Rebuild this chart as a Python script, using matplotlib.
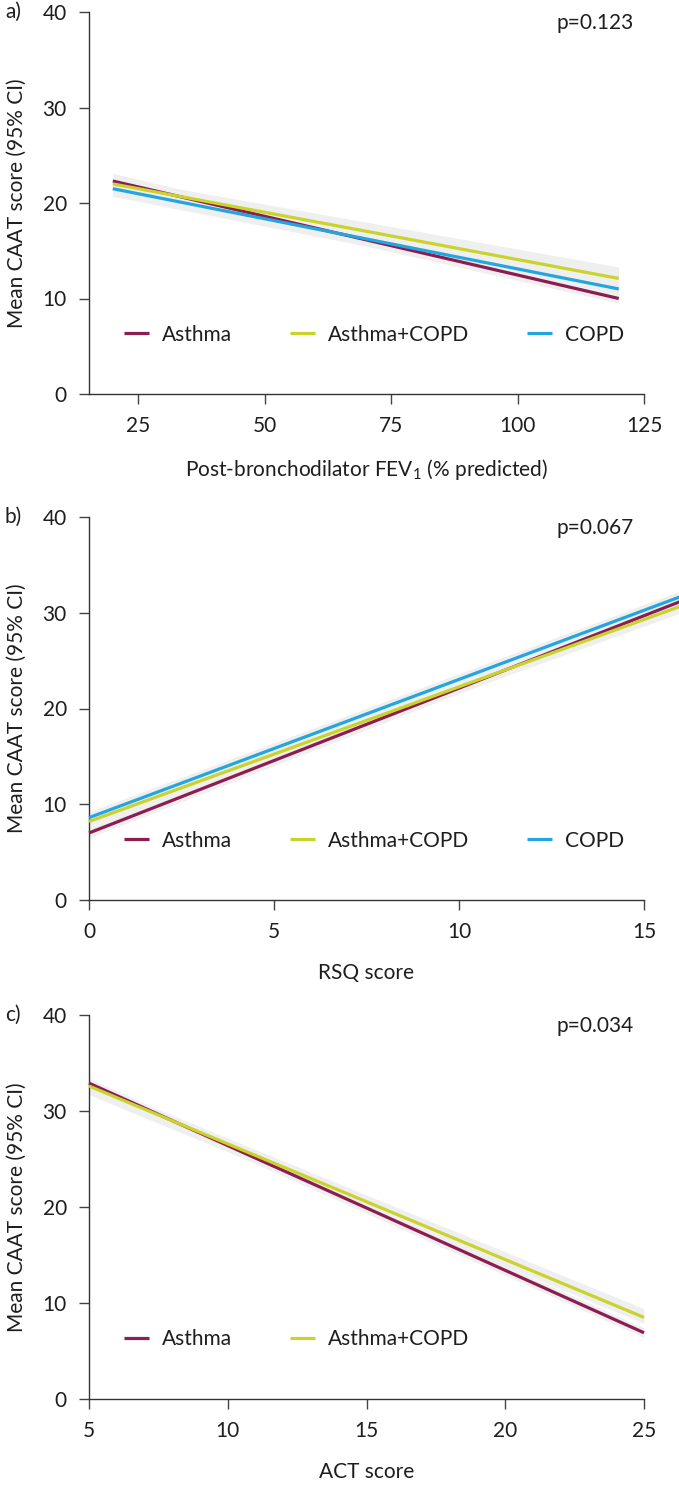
import numpy as np
import matplotlib.pyplot as plt

plt.rcParams['font.family'] = ['Lato', 'DejaVu Sans']
plt.rcParams['font.size'] = 15
plt.rcParams['mathtext.fontset'] = 'custom'
plt.rcParams['mathtext.rm'] = 'Lato'

# colours per group
colors = {'Asthma': '#8c1d50', 'Asthma+COPD': '#c9d32b', 'COPD': '#23a6e0'}
band_color = '#efefef'
txt = '#1e1e1e'

# panel a: post-bronchodilator FEV1 (% predicted)
fev_x = [20, 120]
fev_groups = ['Asthma', 'Asthma+COPD', 'COPD']
fev_mean = {'Asthma': [22.3, 10.0], 'Asthma+COPD': [22.0, 12.1], 'COPD': [21.5, 11.0]}
fev_lo = {'Asthma': [21.5, 9.5], 'Asthma+COPD': [21.3, 11.0], 'COPD': [20.7, 10.3]}
fev_hi = {'Asthma': [23.1, 10.7], 'Asthma+COPD': [22.7, 13.3], 'COPD': [22.2, 11.8]}

# panel b: RSQ score
rsq_x = [0, 16]
rsq_groups = ['Asthma', 'Asthma+COPD', 'COPD']
rsq_mean = {'Asthma': [7.0, 31.2], 'Asthma+COPD': [8.2, 30.7], 'COPD': [8.6, 31.7]}
rsq_lo = {'Asthma': [6.5, 30.6], 'Asthma+COPD': [7.7, 30.0], 'COPD': [8.1, 31.1]}
rsq_hi = {'Asthma': [7.6, 31.8], 'Asthma+COPD': [8.8, 31.3], 'COPD': [9.2, 32.3]}

# panel c: ACT score
act_x = [5, 25]
act_groups = ['Asthma', 'Asthma+COPD']
act_mean = {'Asthma': [32.9, 6.9], 'Asthma+COPD': [32.6, 8.5]}
act_lo = {'Asthma': [32.3, 6.4], 'Asthma+COPD': [31.7, 7.9]}
act_hi = {'Asthma': [33.4, 7.4], 'Asthma+COPD': [33.1, 9.4]}

panels = [
    dict(tag='a)', x=fev_x, groups=fev_groups, mean=fev_mean, lo=fev_lo, hi=fev_hi,
         xlim=(15.3, 125), xticks=[25, 50, 75, 100, 125],
         xlabel='Post-bronchodilator FEV$_{\\mathregular{1}}$ (% predicted)', p='p=0.123'),
    dict(tag='b)', x=rsq_x, groups=rsq_groups, mean=rsq_mean, lo=rsq_lo, hi=rsq_hi,
         xlim=(0, 15), xticks=[0, 5, 10, 15], xlabel='RSQ score', p='p=0.067'),
    dict(tag='c)', x=act_x, groups=act_groups, mean=act_mean, lo=act_lo, hi=act_hi,
         xlim=(5, 25), xticks=[5, 10, 15, 20, 25], xlabel='ACT score', p='p=0.034'),
]

W, H = 679, 1486
fig = plt.figure(figsize=(W / 100, H / 100), dpi=100)

# top and bottom pixel rows of each axes
rows = [(12, 394), (517, 900), (1015, 1399)]
left_px, right_px = 89, 644

for pan, (top, bot) in zip(panels, rows):
    ax = fig.add_axes([left_px / W, 1 - bot / H, (right_px - left_px) / W, (bot - top) / H])
    for g in pan['groups']:
        ax.fill_between(pan['x'], pan['lo'][g], pan['hi'][g], color=band_color,
                        lw=0, zorder=1, clip_on=False)
    for g in pan['groups']:
        ax.plot(pan['x'], pan['mean'][g], color=colors[g], lw=2.3, label=g,
                solid_capstyle='butt', zorder=3, clip_on=False)

    ax.set_xlim(*pan['xlim'])
    ax.set_ylim(0, 40)
    ax.set_xticks(pan['xticks'])
    ax.set_yticks([0, 10, 20, 30, 40])
    for s in ['top', 'right']:
        ax.spines[s].set_visible(False)
    for s in ['left', 'bottom']:
        ax.spines[s].set_color('#333333')
        ax.spines[s].set_linewidth(1.0)
    ax.tick_params(direction='out', length=7, width=1.0, color='#444444',
                   labelcolor=txt, labelsize=15, pad=9)
    ax.set_ylabel('Mean CAAT score (95% CI)', fontsize=15, color=txt, labelpad=11)
    ax.set_xlabel(pan['xlabel'], fontsize=15, color=txt, labelpad=15)

    ax.text(0.912, 0.971, pan['p'], transform=ax.transAxes, ha='center', va='center',
            fontsize=15, color=txt)
    fig.text(5 / W, 1 - top / H, pan['tag'], ha='left', va='center', fontsize=15,
             color=txt)

    ax.legend(loc='center left', bbox_to_anchor=(0.03, 0.155), ncol=3, frameon=False,
              handlelength=1.2, handletextpad=0.6, columnspacing=2.8, fontsize=15,
              labelcolor=txt)

fig.savefig('out.png', dpi=100)
